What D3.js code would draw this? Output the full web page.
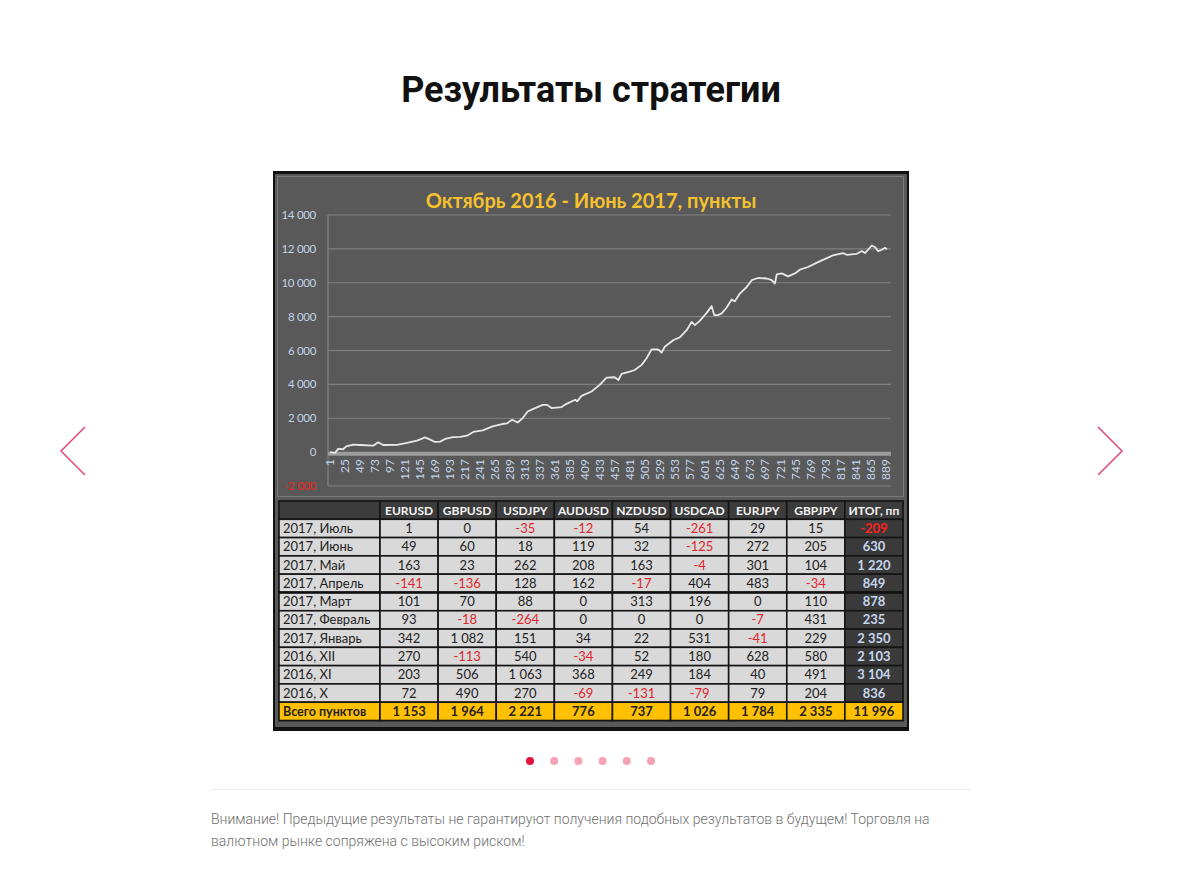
<!DOCTYPE html>
<html><head><meta charset="utf-8">
<script src="https://cdn.jsdelivr.net/npm/d3@7"></script>
<style>body{margin:0;background:#fff;} svg{display:block}</style>
</head><body><svg id="c" width="1188" height="893"></svg>
<script>
// ---- data ----
const pageTitle = "Результаты стратегии";
const chartTitle = "Октябрь 2016 - Июнь 2017, пункты";
const yTicks = [-2000, 0, 2000, 4000, 6000, 8000, 10000, 12000, 14000];
const xTicks = [1,25,49,73,97,121,145,169,193,217,241,265,289,313,337,361,385,409,433,457,481,505,529,553,577,601,625,649,673,697,721,745,769,793,817,841,865,889];
const lineIdx = [1,9,14,22,27,38,49,70,78,86,108,124,140,153,161,169,177,185,198,209,220,230,245,261,276,284,292,301,309,317,325,341,348,355,371,379,393,396,403,419,432,443,456,462,467,480,488,499,507,515,524,527,531,536,550,560,571,579,584,592,603,611,615,621,627,635,643,648,656,667,675,685,699,707,712,715,723,733,744,752,765,776,787,797,805,821,827,843,851,856,867,872,877,883,888,891];
const lineVal = [0,-50,190,170,340,440,420,380,580,420,430,540,680,870,735,600,620,775,890,900,970,1190,1280,1520,1660,1700,1910,1750,2010,2400,2540,2790,2790,2600,2660,2850,3090,3000,3320,3580,3970,4400,4420,4260,4620,4750,4850,5150,5540,6070,6070,6020,5870,6220,6620,6770,7200,7690,7500,7750,8220,8620,8090,8090,8190,8540,9010,8900,9360,9750,10150,10280,10250,10150,9950,10500,10550,10380,10550,10770,10930,11130,11320,11480,11620,11750,11650,11710,11870,11750,12200,12100,11870,11950,12070,11970];

const pairs = ["EURUSD","GBPUSD","USDJPY","AUDUSD","NZDUSD","USDCAD","EURJPY","GBPJPY"];
const totalHeader = "ИТОГ, пп";
const rowLabels = ["2017, Июль","2017, Июнь","2017, Май","2017, Апрель","2017, Март","2017, Февраль","2017, Январь","2016, XII","2016, XI","2016, X"];
const rowValues = [
  [1,0,-35,-12,54,-261,29,15],
  [49,60,18,119,32,-125,272,205],
  [163,23,262,208,163,-4,301,104],
  [-141,-136,128,162,-17,404,483,-34],
  [101,70,88,0,313,196,0,110],
  [93,-18,-264,0,0,0,-7,431],
  [342,1082,151,34,22,531,-41,229],
  [270,-113,540,-34,52,180,628,580],
  [203,506,1063,368,249,184,40,491],
  [72,490,270,-69,-131,-79,79,204]
];
const rowTotals = [-209,630,1220,849,878,235,2350,2103,3104,836];
const totalLabel = "Всего пунктов";
const colTotals = [1153,1964,2221,776,737,1026,1784,2335];
const grandTotal = 11996;
const disclaimer = ["Внимание! Предыдущие результаты не гарантируют получения подобных результатов в будущем! Торговля на","валютном рынке сопряжена с высоким риском!"];
const slideCount = 6;

// ---- drawing ----
const svg = d3.select("#c");
svg.append("rect").attr("width",1188).attr("height",893).attr("fill","#fff");
const fmt = v => d3.format(",")(v).replace(/,/g,"\u00a0").replace("−","-");

svg.append("text").attr("x",591).attr("y",102).attr("text-anchor","middle")
  .attr("font-family","Roboto").attr("font-weight",700).attr("font-size",36).attr("fill","#111")
  .text(pageTitle);

// frame
svg.append("rect").attr("x",273).attr("y",171).attr("width",636).attr("height",560).attr("fill","#111");
svg.append("rect").attr("x",275).attr("y",174).attr("width",632).attr("height",553).attr("fill","#595959");
svg.append("rect").attr("x",277.5).attr("y",176.5).attr("width",626).attr("height",320).attr("fill","none").attr("stroke","#7a7a7a");

svg.append("text").attr("x",591).attr("y",208).attr("text-anchor","middle")
  .attr("font-family","Lato").attr("font-weight",700).attr("font-size",20).attr("fill","#f5c12c")
  .text(chartTitle);

const y = d3.scaleLinear().domain([-2000,14000]).range([486,215]);
const x = d3.scaleLinear().domain([1,896]).range([330,890]);

const g = svg.append("g");
g.selectAll("line.grid").data(yTicks.filter(d=>d!==0)).join("line")
  .attr("x1",328).attr("x2",891).attr("y1",d=>y(d)).attr("y2",d=>y(d))
  .attr("stroke","#808080").attr("stroke-width",1.2);
g.append("line").attr("x1",328).attr("x2",328).attr("y1",215).attr("y2",486).attr("stroke","#8a8a8a");
g.append("line").attr("x1",328).attr("x2",891).attr("y1",y(0)+1.5).attr("y2",y(0)+1.5)
  .attr("stroke","#9c9c9c").attr("stroke-width",4);

g.selectAll("text.yl").data(yTicks).join("text")
  .attr("x",316).attr("y",d=>y(d)+4).attr("text-anchor","end")
  .attr("font-family","Lato").attr("font-size",11.5).attr("letter-spacing",-0.3)
  .attr("fill",d=>d<0?"#ee2020":"#c3d3e8")
  .text(d=>fmt(d));

g.selectAll("text.xl").data(xTicks).join("text")
  .attr("transform",d=>`translate(${x(d)+4},459) rotate(-90)`)
  .attr("text-anchor","end")
  .attr("font-family","Lato").attr("font-size",12).attr("fill","#c3d3e8")
  .text(d=>d);

const pts = lineIdx.map((d,i)=>[d,lineVal[i]]);
g.append("path").datum(pts)
  .attr("d",d3.line().x(d=>x(d[0])).y(d=>y(d[1])))
  .attr("fill","none").attr("stroke","#e8e8e8").attr("stroke-width",1.8).attr("stroke-linejoin","round");

// table
const cols = [...pairs, totalHeader];
const cx = d3.scaleBand().domain(cols).range([380,903]);
const rowsDom = ["__h", ...rowLabels, "__t"];
const ry = d3.scaleBand().domain(rowsDom).range([501,720.5]);
const t = svg.append("g");
t.append("rect").attr("x",278).attr("y",500).attr("width",626).attr("height",222).attr("fill","#444");

function cell(xx, yy, w, h, fill){
  t.append("rect").attr("x",xx).attr("y",yy).attr("width",w).attr("height",h)
   .attr("fill",fill).attr("stroke","#151515").attr("stroke-width",1.6);
}
function txt(xx, yy, s, opts){
  t.append("text").attr("x",xx).attr("y",yy).attr("text-anchor",opts.anchor||"middle")
   .attr("font-family","Lato").attr("font-size",opts.size||12).attr("font-weight",opts.bold?700:400)
   .attr("fill",opts.fill).text(s);
}
const bh = ry.bandwidth();
// header
cell(279, ry("__h"), 101, bh, "#3c3c3c");
cols.forEach(c=>{ cell(cx(c), ry("__h"), cx.bandwidth(), bh, "#3c3c3c");
  txt(cx(c)+cx.bandwidth()/2, ry("__h")+bh/2+4.5, c, {bold:true, fill:"#f4f4f4", size:12}); });
rowLabels.forEach((r,i)=>{
  const yy = ry(r);
  cell(279, yy, 101, bh, "#d9d9d9");
  txt(283, yy+bh/2+4.5, r, {anchor:"start", fill:"#222", size:13});
  pairs.forEach((p,j)=>{
    const v = rowValues[i][j];
    cell(cx(p), yy, cx.bandwidth(), bh, "#d9d9d9");
    txt(cx(p)+cx.bandwidth()/2, yy+bh/2+4.5, fmt(v), {fill: v<0?"#e0262a":"#222", size:13});
  });
  const tv = rowTotals[i];
  cell(cx(totalHeader), yy, cx.bandwidth(), bh, "#3a3a3a");
  txt(cx(totalHeader)+cx.bandwidth()/2, yy+bh/2+4.5, fmt(tv), {bold:true, fill: tv<0?"#ff2020":"#c6d6ee", size:13});
});
// separators
t.append("line").attr("x1",279).attr("x2",903).attr("y1",ry(rowLabels[4])).attr("y2",ry(rowLabels[4])).attr("stroke","#111").attr("stroke-width",2.4);
// total row
const ty = ry("__t");
cell(279, ty, 101, bh, "#ffc000");
txt(283, ty+bh/2+4.5, totalLabel, {anchor:"start", bold:true, fill:"#222", size:12.5});
pairs.forEach((p,j)=>{ cell(cx(p), ty, cx.bandwidth(), bh, "#ffc000");
  txt(cx(p)+cx.bandwidth()/2, ty+bh/2+4.5, fmt(colTotals[j]), {bold:true, fill:"#222", size:13}); });
cell(cx(totalHeader), ty, cx.bandwidth(), bh, "#ffc000");
txt(cx(totalHeader)+cx.bandwidth()/2, ty+bh/2+4.5, fmt(grandTotal), {bold:true, fill:"#222", size:13});

// arrows
const arrowColor = "#dc4a78";
svg.append("path").attr("d","M85,427 L61,451 L85,475").attr("fill","none").attr("stroke",arrowColor).attr("stroke-width",1.5);
svg.append("path").attr("d","M1098,427 L1122,451 L1098,475").attr("fill","none").attr("stroke",arrowColor).attr("stroke-width",1.5);

// dots
const dotX = d3.scalePoint().domain(d3.range(slideCount)).range([530,651]);
svg.selectAll("circle.dot").data(d3.range(slideCount)).join("circle")
  .attr("cx",d=>dotX(d)).attr("cy",761).attr("r",4)
  .attr("fill",d=>d===0?"#e3123e":"#f4a2b4");

svg.append("line").attr("x1",211).attr("x2",971).attr("y1",789.5).attr("y2",789.5).attr("stroke","#ececec");

svg.selectAll("text.disc").data(disclaimer).join("text")
  .attr("x",211).attr("y",(d,i)=>824+i*22)
  .attr("font-family","Roboto").attr("font-weight",300).attr("font-size",14).attr("fill","#6f6f6f")
  .text(d=>d);
</script></body></html>
